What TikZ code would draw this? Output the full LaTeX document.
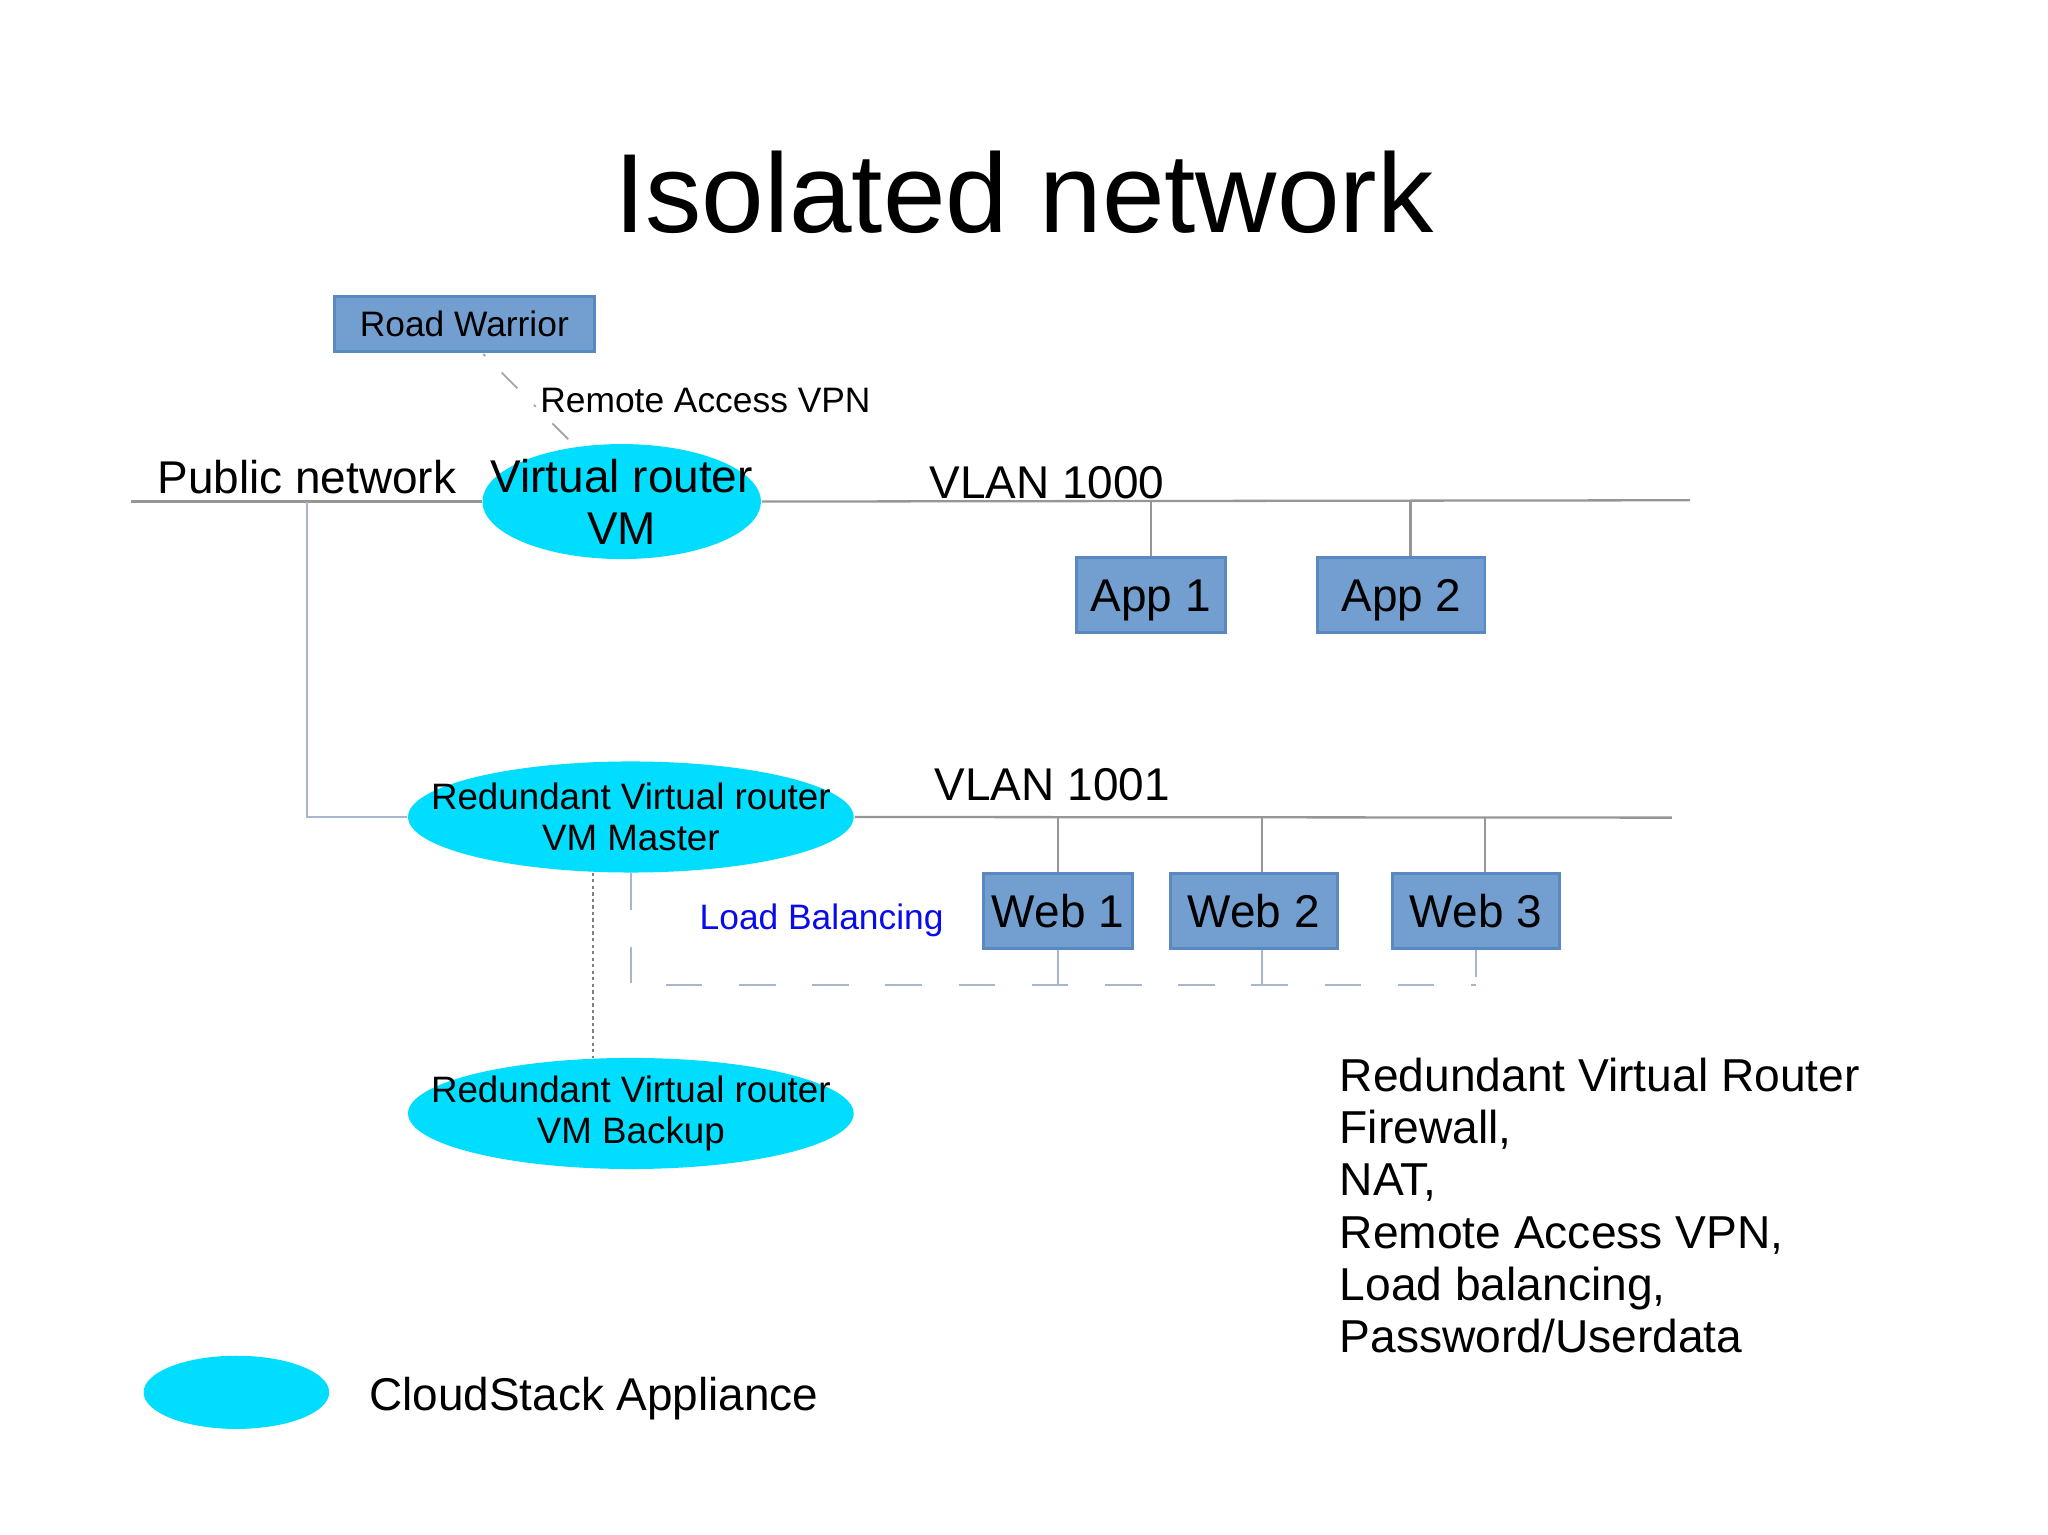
\documentclass[tikz,border=0pt]{standalone}
\usepackage{fontspec}
\setmainfont{Liberation Sans}
\usetikzlibrary{shapes.geometric,backgrounds,calc}
\definecolor{appl}{RGB}{0,221,255}
\definecolor{boxfill}{HTML}{729FCF}
\definecolor{boxline}{HTML}{5A88C0}
\definecolor{netline}{RGB}{150,150,150}
\definecolor{linkline}{RGB}{165,182,205}
\definecolor{lbblue}{RGB}{10,10,235}
\begin{document}
\begin{tikzpicture}[x=0.01cm,y=-0.01cm,
  appliance/.style={ellipse,fill=appl,inner sep=0pt},
  hostbox/.style={rectangle,fill=boxfill,draw=boxline,line width=0.6pt,minimum height=0.57cm,inner sep=0pt,text height=7.2pt,text depth=0pt,font=\fontsize{10}{12}\selectfont},
  lbl/.style={anchor=base west,inner sep=0pt},
  big/.style={font=\fontsize{10}{11.4}\selectfont},
  small/.style={font=\fontsize{7.7}{9}\selectfont},
  mid/.style={font=\fontsize{8.0}{8.8}\selectfont},
  net/.style={draw=netline,line width=0.5pt},
  link/.style={draw=linkline,line width=0.5pt},
  lbdash/.style={draw=linkline,line width=0.5pt,dash pattern=on 2.8mm off 2.8mm},
  vpnline/.style={draw=gray!70,line width=0.4pt,dash pattern=on 0.2mm off 1.8mm on 1.7mm off 1.8mm},
  hadrline/.style={draw=gray,line width=0.4pt,dash pattern=on 0.25mm off 0.25mm}
]
\useasboundingbox (0,0) rectangle (1568,1175);

% title
\node[anchor=base,inner sep=0pt,font=\fontsize{24.5}{28}\selectfont] (title) at (784,178) {Isolated network};

% nodes
\node[hostbox,minimum width=1.99cm,minimum height=0.42cm,text height=5.5pt,font=\fontsize{7.7}{9}\selectfont] (rw) at (355.5,248) {Road Warrior};
\node[appliance,minimum width=2.13cm,minimum height=0.88cm] (vr) at (476,384) {};
\node[appliance,minimum width=3.41cm,minimum height=0.85cm] (vrm) at (483,625.5) {};
\node[appliance,minimum width=3.41cm,minimum height=0.85cm] (vrb) at (483,852.5) {};
\node[appliance,minimum width=1.42cm,minimum height=0.56cm] (leg) at (181,1066) {};

\node[hostbox,minimum width=1.14cm] (app1) at (881,455.5) {App 1};
\node[hostbox,minimum width=1.28cm] (app2) at (1073,455.5) {App 2};
\node[hostbox,minimum width=1.14cm] (web1) at (810,697.5) {Web 1};
\node[hostbox,minimum width=1.28cm] (web2) at (960,697.5) {Web 2};
\node[hostbox,minimum width=1.28cm] (web3) at (1130,697.5) {Web 3};

\coordinate (publeft) at (100,384);
\coordinate (v1000r) at (1294,383);
\coordinate (v1001r) at (1280,626);
\coordinate (pubdrop) at (235,384);
\coordinate (lbend) at (1130,754);

% connectors (behind nodes)
\begin{scope}[on background layer]
\draw[net] (publeft) -- (vr.west);
\draw[net] (vr.east) -- (v1000r);
\draw[net] (vrm.east) -- (v1001r);
\draw[net] (app1.north) -- (app1.north |- vr.center);
\draw[net] ([xshift=0.07cm]app2.north) -- ([xshift=0.07cm]app2.north |- vr.center);
\draw[net] (web1.north) -- (web1.north |- vrm.center);
\draw[net] ([xshift=0.06cm]web2.north) -- ([xshift=0.06cm]web2.north |- vrm.center);
\draw[net] ([xshift=0.07cm]web3.north) -- ([xshift=0.07cm]web3.north |- vrm.center);
\draw[link] (pubdrop) |- (vrm.west);
\draw[lbdash] (vrm.south) |- (lbend);
\draw[link] (web1.south) -- (web1.south |- lbend);
\draw[link] ([xshift=0.06cm]web2.south) -- ([xshift=0.06cm]web2.south |- lbend);
\draw[link] (web3.south) -- ([yshift=0.06cm]web3.south |- lbend);
\draw[vpnline] ($(rw.south)+(14.5,1)$) -- ($(vr.north)+(-38,0)$);
\draw[hadrline] (vrm.236) -- (vrb.124);
\end{scope}

% texts
\node[big,align=center,inner sep=0pt] (vrtext) at (vr.center) {Virtual router\\VM};
\node[mid,align=center,inner sep=0pt] (vrmtext) at (vrm.center) {Redundant Virtual router\\VM Master};
\node[mid,align=center,inner sep=0pt] (vrbtext) at (vrb.center) {Redundant Virtual router\\VM Backup};
\node[lbl,small] (vpn) at (413,316) {Remote Access VPN};
\node[lbl,big] (pub) at (120,378) {Public network};
\node[lbl,big] (vlan1) at (711,382) {VLAN 1000};
\node[lbl,big] (vlan2) at (715,613) {VLAN 1001};
\node[lbl,small,text=lbblue] (lb) at (535,712) {Load Balancing};
\node[lbl,big] (legtext) at (282,1080) {CloudStack Appliance};
\node[anchor=north west,inner sep=0pt,align=left,font=\fontsize{10.05}{11.4}\selectfont] (feat) at (1025,809) {Redundant Virtual Router\\Firewall,\\NAT,\\Remote Access VPN,\\Load balancing,\\Password/Userdata};
\end{tikzpicture}
\end{document}
